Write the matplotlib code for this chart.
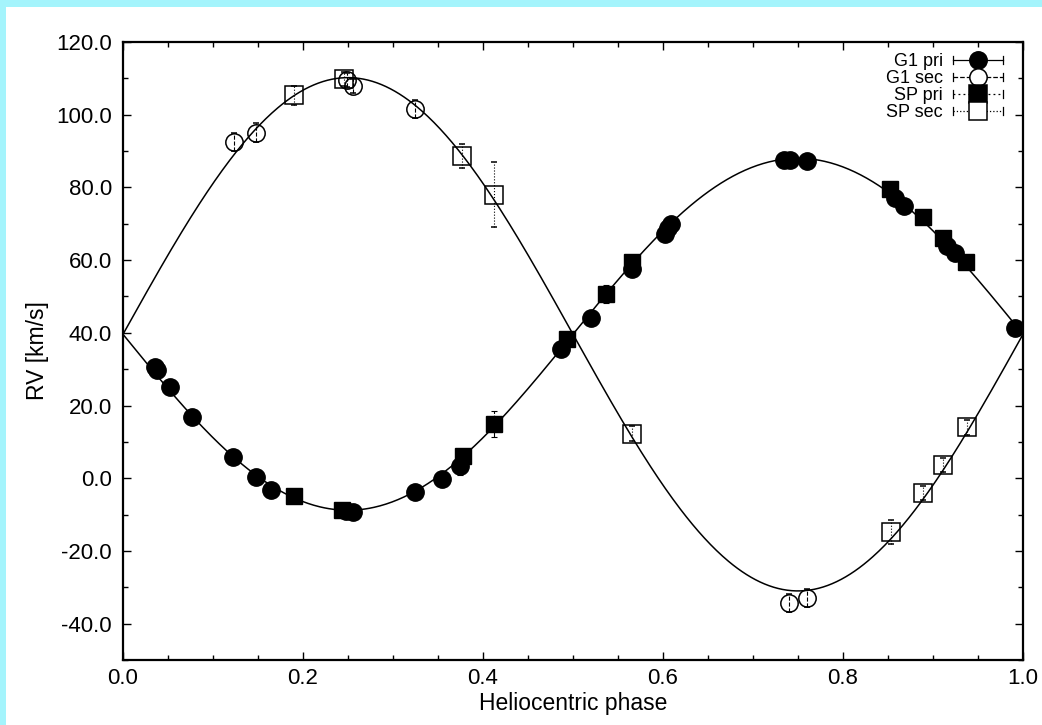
import numpy as np
import matplotlib
matplotlib.use("Agg")
import matplotlib.pyplot as plt
from matplotlib.lines import Line2D
from matplotlib.legend_handler import HandlerBase
from matplotlib.patches import Rectangle
from matplotlib.ticker import MultipleLocator, FormatStrFormatter

# ---------------- data ----------------
g1_pri_phase = [0.0356, 0.038, 0.052, 0.077, 0.122, 0.148, 0.164, 0.248, 0.255,
                0.324, 0.354, 0.374, 0.487, 0.5205, 0.565, 0.602, 0.606, 0.609,
                0.734, 0.741, 0.760, 0.858, 0.868, 0.915, 0.924, 0.991]
g1_pri_rv = [30.5, 29.7, 25.0, 16.8, 5.9, 0.4, -3.2, -8.9, -9.2,
             -3.9, -0.3, 3.5, 35.5, 44.2, 57.6, 67.3, 68.8, 69.8,
             87.6, 87.6, 87.4, 77.1, 74.8, 63.8, 62.0, 41.2]
g1_pri_err = [1.0, 1.0, 1.0, 1.0, 1.0, 1.0, 1.0, 1.0, 1.0,
              1.0, 2.0, 2.5, 1.0, 1.0, 1.0, 1.0, 1.0, 1.0,
              1.0, 1.0, 1.0, 1.0, 1.0, 1.0, 1.0, 1.0]

g1_sec_phase = [0.1237, 0.148, 0.249, 0.256, 0.324, 0.740, 0.760]
g1_sec_rv = [92.6, 95.1, 109.5, 107.9, 101.6, -34.3, -32.9]
g1_sec_err = [2.5, 2.5, 2.0, 2.0, 2.5, 2.5, 2.5]

sp_pri_phase = [0.190, 0.243, 0.378, 0.412, 0.493, 0.537, 0.565, 0.852, 0.8885, 0.911, 0.937]
sp_pri_rv = [-4.8, -8.7, 6.0, 14.9, 38.2, 50.6, 59.6, 79.6, 71.9, 66.1, 59.4]
sp_pri_err = [1.5, 1.5, 1.5, 3.5, 1.5, 2.5, 1.5, 1.5, 1.5, 1.5, 1.5]

sp_sec_phase = [0.190, 0.246, 0.377, 0.412, 0.566, 0.853, 0.889, 0.9115, 0.938]
sp_sec_rv = [105.3, 109.8, 88.7, 78.0, 12.3, -14.8, -4.1, 3.7, 14.0]
sp_sec_err = [2.5, 2.0, 3.3, 9.0, 2.0, 3.2, 2.0, 2.0, 2.0]

# orbital solution (circular orbit) used for the model curves
gamma = 39.6
K1 = 48.4
K2 = 70.6

# ---------------- figure ----------------
plt.rcParams['font.family'] = ['Liberation Sans', 'DejaVu Sans']
fig = plt.figure(figsize=(10.42, 7.25), dpi=100)
fig.patch.set_facecolor('white')
cyan = '#A4F4FC'
fig.patches.append(Rectangle((0, 0), 6 / 1042, 1, transform=fig.transFigure,
                             facecolor=cyan, edgecolor='none', zorder=-10))
fig.patches.append(Rectangle((0, 1 - 7 / 725), 1, 7 / 725, transform=fig.transFigure,
                             facecolor=cyan, edgecolor='none', zorder=-10))

ax = fig.add_axes([123 / 1042, 1 - 660 / 725, 900 / 1042, 618 / 725])
ax.set_facecolor('white')

ph = np.linspace(0, 1, 600)
ax.plot(ph, gamma - K1 * np.sin(2 * np.pi * ph), color='black', lw=1.1, zorder=2)
ax.plot(ph, gamma + K2 * np.sin(2 * np.pi * ph), color='black', lw=1.1, zorder=2)

ms = 12.5
common = dict(color='black', ecolor='black', elinewidth=0.8, capsize=2, capthick=0.8, zorder=3)
e1 = ax.errorbar(g1_pri_phase, g1_pri_rv, yerr=g1_pri_err, fmt='o', ms=ms,
                 mfc='black', mec='black', **common)
e2 = ax.errorbar(g1_sec_phase, g1_sec_rv, yerr=g1_sec_err, fmt='o', ms=ms,
                 mfc='none', mec='black', mew=1.1, **common)
e2[2][0].set_linestyle('--')
e3 = ax.errorbar(sp_pri_phase, sp_pri_rv, yerr=sp_pri_err, fmt='s', ms=ms - 0.5,
                 mfc='black', mec='black', **common)
e3[2][0].set_linestyle('-.')
e4 = ax.errorbar(sp_sec_phase, sp_sec_rv, yerr=sp_sec_err, fmt='s', ms=ms,
                 mfc='none', mec='black', mew=1.1, **common)
e4[2][0].set_linestyle(':')

ax.set_xlim(0, 1)
ax.set_ylim(-50, 120)
ax.xaxis.set_major_locator(MultipleLocator(0.2))
ax.xaxis.set_minor_locator(MultipleLocator(0.05))
ax.yaxis.set_major_locator(MultipleLocator(20))
ax.yaxis.set_minor_locator(MultipleLocator(10))
ax.xaxis.set_major_formatter(FormatStrFormatter('%.1f'))
ax.yaxis.set_major_formatter(FormatStrFormatter('%.1f'))
ax.tick_params(which='both', direction='in', top=True, right=True, labelsize=16,
               width=1.0, color='black')
ax.tick_params(which='major', length=6)
ax.tick_params(which='minor', length=3.5)
ax.tick_params(axis='x', pad=6)
ax.tick_params(axis='y', pad=8)
for s in ax.spines.values():
    s.set_linewidth(1.6)

ax.set_xlabel('Heliocentric phase', fontsize=16.5, labelpad=2)
ax.set_ylabel('RV [km/s]', fontsize=16.5, labelpad=5)


# ---------------- legend (gnuplot style) ----------------
class ErrKeyHandler(HandlerBase):
    def __init__(self, ls, marker, filled):
        super().__init__()
        self.ls = ls
        self.marker = marker
        self.filled = filled

    def create_artists(self, legend, orig_handle, xdescent, ydescent, width, height,
                       fontsize, trans):
        y = height / 2 - ydescent
        x0, x1 = -xdescent, width - xdescent
        artists = [Line2D([x0, x1], [y, y], ls=self.ls, color='black', lw=0.9, transform=trans)]
        for xc in (x0, x1):
            artists.append(Line2D([xc, xc], [y - 3, y + 3], color='black', lw=0.9,
                                  transform=trans))
        artists.append(Line2D([(x0 + x1) / 2], [y], marker=self.marker, ms=ms,
                              mfc='black' if self.filled else 'white', mec='black',
                              mew=1.1, ls='none', transform=trans))
        return artists


h1, h2, h3, h4 = [Line2D([], []) for _ in range(4)]
leg = ax.legend([h1, h2, h3, h4], ['G1 pri', 'G1 sec', 'SP pri', 'SP sec'],
                handler_map={h1: ErrKeyHandler('-', 'o', True),
                             h2: ErrKeyHandler('--', 'o', False),
                             h3: ErrKeyHandler((0, (1.5, 2.5)), 's', True),
                             h4: ErrKeyHandler(':', 's', False)},
                loc='upper right', bbox_to_anchor=(0.978, 0.982), frameon=False,
                markerfirst=False, fontsize=13, handlelength=2.8, handletextpad=0.55,
                labelspacing=0.0, borderpad=0.0, borderaxespad=0.0)

fig.savefig('out.png', dpi=100, facecolor=fig.get_facecolor())
